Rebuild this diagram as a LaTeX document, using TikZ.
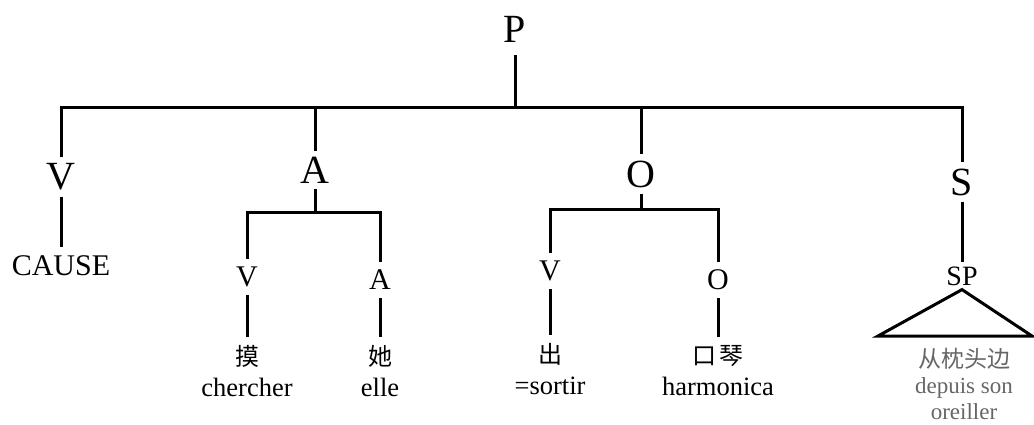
\documentclass[tikz,border=0pt]{standalone}
\usepackage{fontspec}
\setmainfont{Liberation Serif}
\newfontfamily\cjk{Noto Sans CJK SC}
\usepackage{tikz}

\begin{document}
\begin{tikzpicture}[x=1pt, y=-1pt,
  big/.style={font=\fontsize{40}{48}\selectfont, inner sep=6pt},
  small/.style={font=\fontsize{30}{36}\selectfont, inner sep=8pt},
  leaf/.style={font=\fontsize{26.5}{31}\selectfont, align=center, anchor=north, inner sep=8pt},
  branch/.style={line width=3pt}]
\useasboundingbox (0,0) rectangle (1034,424);

% Root
\node[big, inner sep=13pt] (P) at (515,29) {P};
\coordinate (bP) at (515,107);
\coordinate (bA) at (315,107);
\coordinate (bO) at (641,107);

% First split
\node[big] (V) at (61,177) {V};
\node[big] (A) at (315,170) {A};
\node[big] (O) at (641,174) {O};
\node[big] (S) at (962,182) {S};

\draw[branch] (P) -- (bP);
\draw[branch] (V) |- (bP) -| (S);
\draw[branch] (bA) -- (A);
\draw[branch] (bO) -- (O);

% V branch
\node[leaf, font=\fontsize{30}{36}\selectfont] (cause) at (61,247) {CAUSE};
\draw[branch] (V) -- (cause);

% A branch
\coordinate (aJ) at (315,212);
\node[small] (Va) at (247,277) {V};
\node[small] (Aa) at (380,280) {A};
\node[leaf] (mo) at (247,337) {{\cjk\fontsize{24}{31}\selectfont 摸}\\chercher};
\node[leaf] (ta) at (380,337) {{\cjk\fontsize{24}{31}\selectfont 她}\\elle};

\draw[branch] (A) -- (aJ);
\draw[branch] (Va) |- (aJ) -| (Aa);
\draw[branch] (Va) -- (mo);
\draw[branch] (Aa) -- (ta);

% O branch
\coordinate (oJ) at (641,209);
\node[small] (Vo) at (550,271) {V};
\node[small] (Oo) at (718,280) {O};
\node[leaf] (chu) at (550,335) {{\cjk\fontsize{24}{31}\selectfont 出}\\=sortir};
\node[leaf] (kouqin) at (718,337) {{\cjk\fontsize{24}{31}\selectfont 口\,琴}\\harmonica};

\draw[branch] (O) -- (oJ);
\draw[branch] (Vo) |- (oJ) -| (Oo);
\draw[branch] (Vo) -- (chu);
\draw[branch] (Oo) -- (kouqin);

% S branch
\node[small, font=\fontsize{28}{34}\selectfont, inner sep=4pt] (SP) at (962,276) {SP};
\coordinate (triL) at (878,336);
\coordinate (triR) at (1032,336);
\node[leaf, text=black!60, font=\fontsize{23}{26}\selectfont, inner sep=0pt] (zhentou) at (964,348)
  {{\cjk 从枕头边}\\depuis son\\oreiller};

\draw[branch] (S) -- (SP);
\draw[branch, line join=miter] (SP.south) -- (triL) -- (triR) -- cycle;
\end{tikzpicture}
\end{document}
